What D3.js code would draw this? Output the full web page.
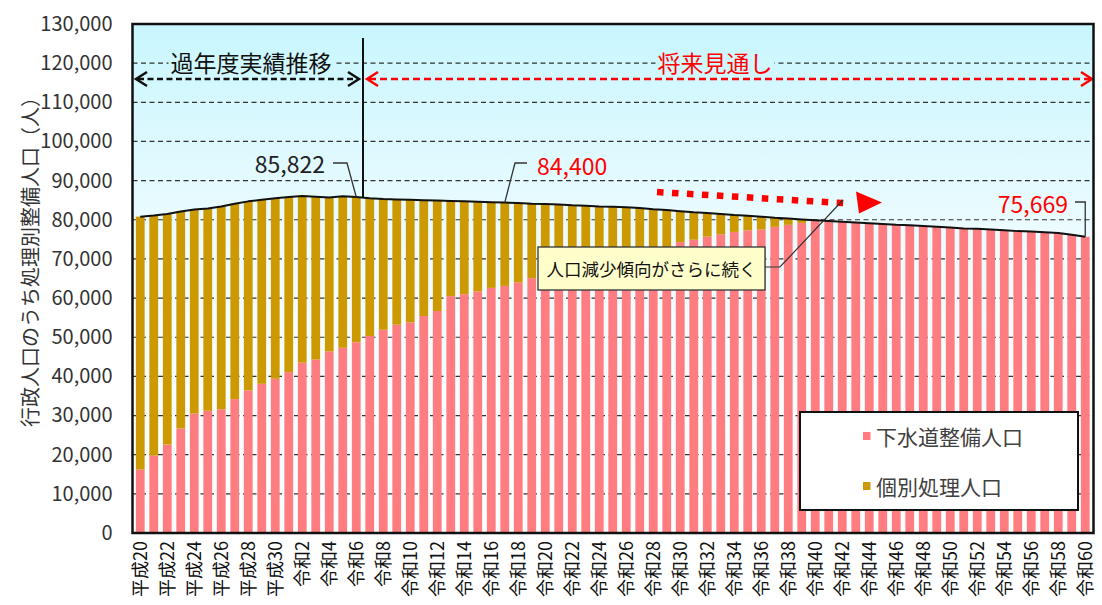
<!DOCTYPE html>
<html lang="ja">
<head>
<meta charset="utf-8">
<script src="https://cdn.jsdelivr.net/npm/d3@7"></script>
<style>
  html, body { margin: 0; padding: 0; background: #fff; }
  svg { display: block; font-family: "Noto Sans CJK JP", "Noto Sans", sans-serif; }
</style>
</head>
<body>
<svg id="chart" width="1102" height="605"></svg>
<script>
// 年度（平成20〜平成30、令和元〜令和60）
const categories = [
  "平成20","平成21","平成22","平成23","平成24","平成25","平成26","平成27","平成28","平成29","平成30",
  "令和元","令和2","令和3","令和4","令和5","令和6","令和7","令和8","令和9","令和10",
  "令和11","令和12","令和13","令和14","令和15","令和16","令和17","令和18","令和19","令和20",
  "令和21","令和22","令和23","令和24","令和25","令和26","令和27","令和28","令和29","令和30",
  "令和31","令和32","令和33","令和34","令和35","令和36","令和37","令和38","令和39","令和40",
  "令和41","令和42","令和43","令和44","令和45","令和46","令和47","令和48","令和49","令和50",
  "令和51","令和52","令和53","令和54","令和55","令和56","令和57","令和58","令和59","令和60"
];

// 横軸に表示する年度
const tickLabels = [
  "平成20","平成22","平成24","平成26","平成28","平成30",
  "令和2","令和4","令和6","令和8","令和10","令和12","令和14","令和16","令和18","令和20",
  "令和22","令和24","令和26","令和28","令和30","令和32","令和34","令和36","令和38","令和40",
  "令和42","令和44","令和46","令和48","令和50","令和52","令和54","令和56","令和58","令和60"
];

// 下水道整備人口（人）
const sewerPopulation = [
  16200,19800,22600,26700,30500,31200,31600,34200,36400,38100,
  39400,41100,43500,44300,46400,47300,48700,50300,51900,53200,
  53800,55400,56700,60500,61000,61700,62600,63100,64000,65100,
  66000,66800,67900,68600,69500,70300,71100,71800,72400,72900,
  74300,74900,75700,76300,76900,77300,77500,78200,78700,79200,
  79900,79700,79500,79300,79100,78900,78700,78600,78400,78200,
  78000,77800,77700,77500,77300,77100,77000,76800,76600,76200,75669
];

// 個別処理人口（人）
const individualPopulation = [
  64600,61300,58900,55400,52100,51700,51800,49900,48300,47000,
  46100,44700,42600,41600,39300,38700,37122,35200,33400,32000,
  31300,29600,28200,24300,23700,22900,21900,21300,20300,19000,
  18000,17100,15800,15000,13900,13000,12100,11200,10300,9600,
  7900,7000,6000,5200,4300,3700,3300,2300,1600,900,
  0,0,0,0,0,0,0,0,0,0,
  0,0,0,0,0,0,0,0,0,0,0
];

// 縦軸目盛
const yTicks = [0,10000,20000,30000,40000,50000,60000,70000,80000,90000,100000,110000,120000,130000];

const seriesKeys = ["sewer", "individual"];
const seriesNames = ["下水道整備人口", "個別処理人口"];
const seriesColors = ["#FF7C80", "#CC9900"];

// 合計値を表示する年度
const labelledYears = ["令和6", "令和17", "令和60"];
const labelColors = ["#222222", "#FF0000", "#FF0000"];

const rows = categories.map((c, i) => ({
  category: c,
  sewer: sewerPopulation[i],
  individual: individualPopulation[i],
  total: sewerPopulation[i] + individualPopulation[i]
}));

const svg = d3.select("#chart");
const plot = { left: 132.5, right: 1093.5, top: 24, bottom: 533 };

const x = d3.scaleBand()
  .domain(categories)
  .range([133.5, 1092])
  .paddingInner(0.35)
  .paddingOuter(0.175);

const y = d3.scaleLinear()
  .domain([0, 130000])
  .range([plot.bottom, plot.top]);

const cx = c => x(c) + x.bandwidth() / 2;
const fmt = d3.format(",");

// 背景グラデーション
const defs = svg.append("defs");
const grad = defs.append("linearGradient")
  .attr("id", "bg")
  .attr("gradientUnits", "userSpaceOnUse")
  .attr("x1", 0).attr("y1", plot.top)
  .attr("x2", 0).attr("y2", plot.bottom);
grad.append("stop").attr("offset", 0).attr("stop-color", "#C8F6FE");
grad.append("stop").attr("offset", 0.45).attr("stop-color", "#F0FCFF");
grad.append("stop").attr("offset", 1).attr("stop-color", "#FFFFFF");

svg.append("rect")
  .attr("x", plot.left).attr("y", plot.top)
  .attr("width", plot.right - plot.left)
  .attr("height", plot.bottom - plot.top)
  .attr("fill", "url(#bg)");

// 目盛線（破線）
svg.append("g")
  .selectAll("line")
  .data(yTicks.filter(v => v > 0 && v < 130000))
  .join("line")
  .attr("x1", plot.left).attr("x2", plot.right)
  .attr("y1", d => y(d)).attr("y2", d => y(d))
  .attr("stroke", "#333")
  .attr("stroke-width", 1.2)
  .attr("stroke-dasharray", "5,3.5");

// 積み上げ棒
const stacked = d3.stack().keys(seriesKeys)(rows);
svg.append("g")
  .selectAll("g")
  .data(stacked)
  .join("g")
  .attr("fill", (d, i) => seriesColors[i])
  .selectAll("rect")
  .data(d => d)
  .join("rect")
  .attr("x", d => x(d.data.category))
  .attr("width", x.bandwidth())
  .attr("y", d => y(d[1]))
  .attr("height", d => y(d[0]) - y(d[1]));

// 合計の折れ線
svg.append("path")
  .datum(rows)
  .attr("fill", "none")
  .attr("stroke", "#111")
  .attr("stroke-width", 2)
  .attr("stroke-linejoin", "round")
  .attr("d", d3.line().x(d => cx(d.category)).y(d => y(d.total)));

// 実績と将来見通しの境界線
const splitX = x("令和6") + x.bandwidth() + x.step() * x.paddingInner() / 2;
const splitRow = rows.find(r => r.category === "令和6");
svg.append("line")
  .attr("x1", splitX).attr("x2", splitX)
  .attr("y1", 38).attr("y2", y(splitRow.total))
  .attr("stroke", "#111").attr("stroke-width", 2);

// 期間を示す両矢印
function doubleArrow(x1, x2, yy, color, dash) {
  const g = svg.append("g")
    .attr("stroke", color).attr("stroke-width", 2.5).attr("fill", "none");
  g.append("line")
    .attr("x1", x1 + 2).attr("x2", x2 - 2)
    .attr("y1", yy).attr("y2", yy)
    .attr("stroke-dasharray", dash);
  g.append("path").attr("d", `M${x1 + 11},${yy - 7}L${x1},${yy}L${x1 + 11},${yy + 7}`);
  g.append("path").attr("d", `M${x2 - 11},${yy - 7}L${x2},${yy}L${x2 - 11},${yy + 7}`);
}
doubleArrow(136, splitX - 4, 79, "#111", "6,3.5");
doubleArrow(splitX + 4, plot.right - 1.5, 79, "#FF0000", "7,4");

// 見出し（背景付き）
function heading(text, xc, yc, color) {
  const g = svg.append("g");
  const bgRect = g.append("rect").attr("fill", "url(#bg)");
  const t = g.append("text")
    .attr("x", xc).attr("y", yc)
    .attr("text-anchor", "middle")
    .attr("dominant-baseline", "central")
    .attr("font-size", 23)
    .attr("fill", color)
    .text(text);
  const b = t.node().getBBox();
  bgRect.attr("x", b.x - 2).attr("y", yc - 10).attr("width", b.width + 4).attr("height", 20);
}
heading("過年度実績推移", 251, 62, "#111");
heading("将来見通し", 715, 62, "#FF0000");

// 合計値ラベル
labelledYears.forEach((yr, i) => {
  const r = rows.find(d => d.category === yr);
  const px = cx(yr), py = y(r.total);
  const g = svg.append("g");
  const txt = g.append("text")
    .attr("font-size", 23)
    .attr("dominant-baseline", "central")
    .attr("fill", labelColors[i])
    .text(fmt(r.total));
  const lead = g.append("path")
    .attr("fill", "none").attr("stroke", "#333").attr("stroke-width", 1.3);
  if (i === 0) {
    txt.attr("x", 325).attr("y", 163).attr("text-anchor", "end");
    lead.attr("d", `M333,163H347L${px},${py}`);
  } else if (i === 1) {
    txt.attr("x", 537).attr("y", 165).attr("text-anchor", "start");
    lead.attr("d", `M527,163H515L${px},${py}`);
  } else {
    txt.attr("x", 1068).attr("y", 203).attr("text-anchor", "end");
    lead.attr("d", `M1075,202H${px}V${py}`);
  }
});

// 減少傾向を示す赤い点線矢印
svg.append("line")
  .attr("x1", 657).attr("y1", 192)
  .attr("x2", 850).attr("y2", 203.5)
  .attr("stroke", "#FF0000")
  .attr("stroke-width", 6.5)
  .attr("stroke-dasharray", "6.5,8.5");
svg.append("path")
  .attr("d", "M856,191.5L882,202.5L859,213.5Z")
  .attr("fill", "#FF0000");

// 吹き出し
svg.append("path")
  .attr("d", "M765,267H780L843,200")
  .attr("fill", "none").attr("stroke", "#333").attr("stroke-width", 1.2);
svg.append("rect")
  .attr("x", 538).attr("y", 247).attr("width", 227).attr("height", 43)
  .attr("fill", "#FFFFCC").attr("stroke", "#333").attr("stroke-width", 1.3);
svg.append("text")
  .attr("x", 651.5).attr("y", 268.5)
  .attr("text-anchor", "middle")
  .attr("dominant-baseline", "central")
  .attr("font-size", 17.5)
  .attr("fill", "#111")
  .text("人口減少傾向がさらに続く");

// 凡例
const legend = svg.append("g");
legend.append("rect")
  .attr("x", 800).attr("y", 412).attr("width", 278).attr("height", 98)
  .attr("fill", "#fff").attr("stroke", "#111").attr("stroke-width", 2);
seriesNames.forEach((name, i) => {
  const ly = 436 + i * 50;
  legend.append("rect")
    .attr("x", 863).attr("y", ly - 4).attr("width", 7.5).attr("height", 8)
    .attr("fill", seriesColors[i]);
  legend.append("text")
    .attr("x", 876).attr("y", ly)
    .attr("dominant-baseline", "central")
    .attr("font-size", 21)
    .attr("fill", "#404040")
    .text(name);
});

// 縦軸
const yAxis = svg.append("g")
  .attr("transform", `translate(${plot.left},0)`)
  .call(d3.axisLeft(y).tickValues(yTicks).tickFormat(fmt).tickSize(0).tickPadding(20));
yAxis.select(".domain").remove();
yAxis.selectAll("text")
  .attr("font-size", 20)
  .attr("font-family", "\"Noto Sans CJK JP\", sans-serif")
  .attr("fill", "#333");

// 横軸
const xAxis = svg.append("g")
  .attr("transform", `translate(0,${plot.bottom})`)
  .call(d3.axisBottom(x).tickValues(tickLabels).tickSize(0));
xAxis.select(".domain").remove();
xAxis.selectAll("text")
  .attr("font-size", 18)
  .attr("font-family", "\"Noto Sans CJK JP\", sans-serif")
  .attr("fill", "#111")
  .attr("transform", "rotate(-90)")
  .attr("x", -8)
  .attr("y", 0)
  .attr("dy", "0.36em")
  .attr("text-anchor", "end");

// 縦軸タイトル
svg.append("text")
  .attr("transform", "translate(29,257) rotate(-90)")
  .attr("text-anchor", "middle")
  .attr("dominant-baseline", "central")
  .attr("font-size", 20)
  .attr("fill", "#333")
  .text("行政人口のうち処理別整備人口（人）");

// 枠線
svg.append("rect")
  .attr("x", plot.left).attr("y", plot.top)
  .attr("width", plot.right - plot.left)
  .attr("height", plot.bottom - plot.top)
  .attr("fill", "none")
  .attr("stroke", "#111")
  .attr("stroke-width", 2.5);
</script>
</body>
</html>
